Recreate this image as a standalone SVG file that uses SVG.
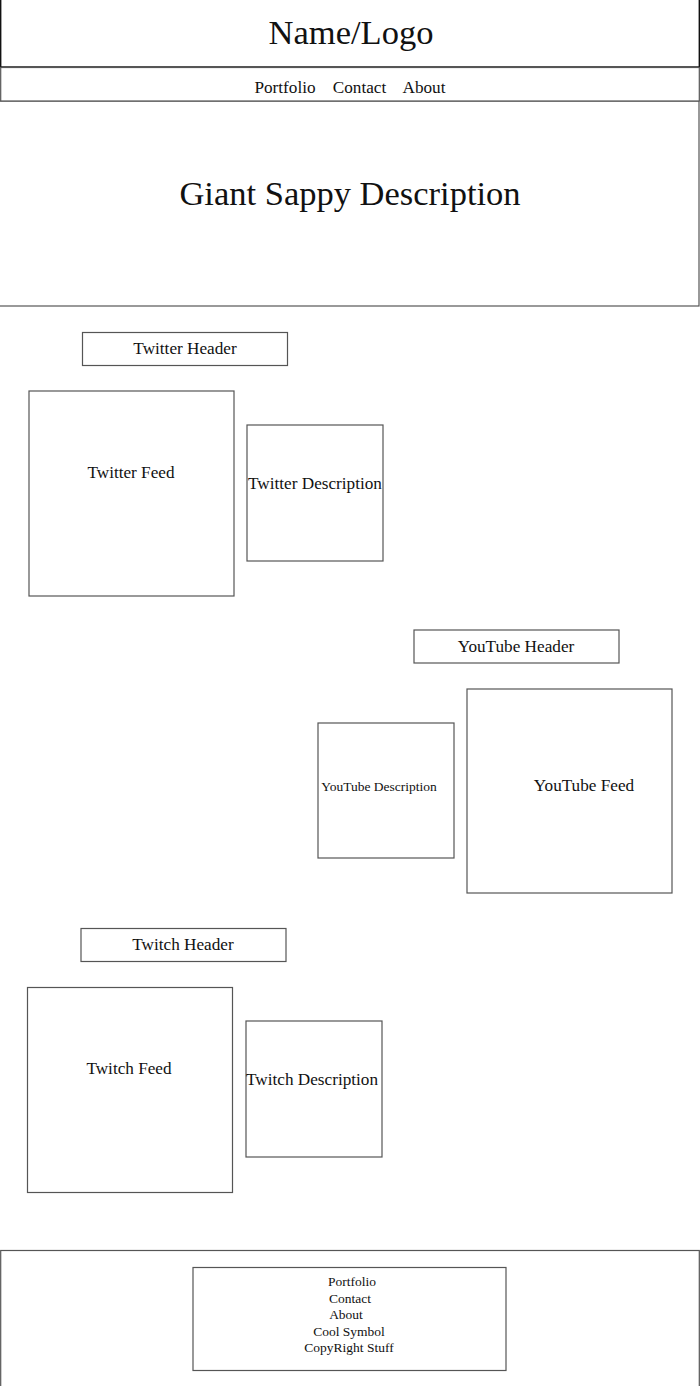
<svg xmlns="http://www.w3.org/2000/svg" width="700" height="1386" viewBox="0 0 700 1386">
<style>
.box{fill:#fff;stroke:#555;stroke-width:1.2}
.hbox{fill:#fff;stroke:#111;stroke-width:1.4}
text{font-family:"Liberation Serif","Times New Roman",serif;fill:#111;text-anchor:middle}
.big{font-size:34.5px}
.md{font-size:17.2px}
.sm{font-size:13.5px}
</style>
<rect width="700" height="1386" fill="#fff"/>
<g id="description">
<rect class="box" x="-2" y="101" width="701" height="205"/>
<text class="big" x="350" y="205">Giant Sappy Description</text>
</g>
<g id="header">
<rect class="hbox" x="0.7" y="-2" width="698.6" height="69"/>
<text class="big" x="351" y="44">Name/Logo</text>
</g>
<g id="nav">
<rect class="box" x="0.7" y="67.5" width="698.6" height="33.5"/>
<text class="md" x="285" y="93">Portfolio</text>
<text class="md" x="359.5" y="93">Contact</text>
<text class="md" x="424" y="93">About</text>
</g>
<g id="twitter-header">
<rect class="box" x="82.5" y="332.5" width="205" height="33"/>
<text class="md" x="185" y="354">Twitter Header</text>
</g>
<g id="twitter-feed">
<rect class="box" x="29" y="391" width="205" height="205"/>
<text class="md" x="131" y="478">Twitter Feed</text>
</g>
<g id="twitter-description">
<rect class="box" x="247" y="425" width="136" height="136"/>
<text class="md" x="315" y="489">Twitter Description</text>
</g>
<g id="youtube-header">
<rect class="box" x="414" y="630" width="205" height="33"/>
<text class="md" x="516" y="652">YouTube Header</text>
</g>
<g id="youtube-description">
<rect class="box" x="318" y="723" width="136" height="135"/>
<text class="sm" x="379" y="791">YouTube Description</text>
</g>
<g id="youtube-feed">
<rect class="box" x="467" y="689" width="205" height="204"/>
<text class="md" x="584" y="791">YouTube Feed</text>
</g>
<g id="twitch-header">
<rect class="box" x="81" y="928.5" width="205" height="33"/>
<text class="md" x="183" y="950">Twitch Header</text>
</g>
<g id="twitch-feed">
<rect class="box" x="27.5" y="987.5" width="205" height="205"/>
<text class="md" x="129" y="1074">Twitch Feed</text>
</g>
<g id="twitch-description">
<rect class="box" x="246" y="1021" width="136" height="136"/>
<text class="md" x="312" y="1085">Twitch Description</text>
</g>
<g id="footer">
<rect class="box" x="0.7" y="1250.5" width="698.6" height="140"/>
</g>
<g id="footer-links">
<rect class="box" x="193" y="1267.5" width="313" height="103"/>
<text class="sm" x="352" y="1286">Portfolio</text>
<text class="sm" x="350" y="1303">Contact</text>
<text class="sm" x="346" y="1319">About</text>
<text class="sm" x="349" y="1336">Cool Symbol</text>
<text class="sm" x="349" y="1352">CopyRight Stuff</text>
</g>
<g id="connectors"></g>
</svg>
